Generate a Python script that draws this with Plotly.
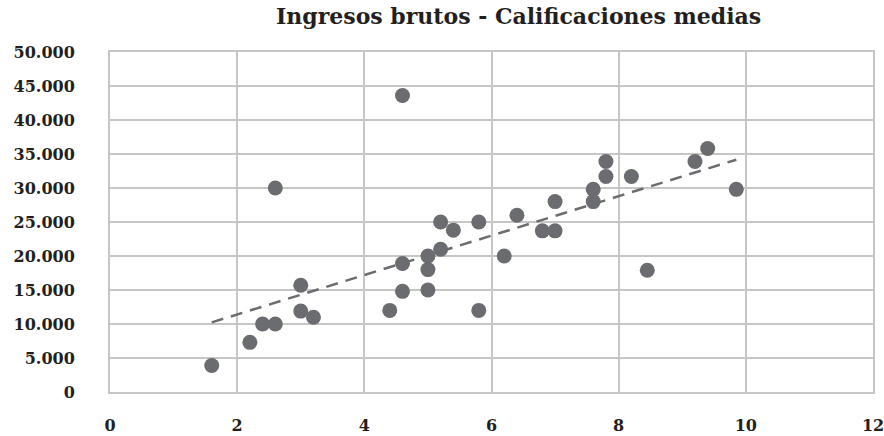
import numpy as np
import plotly.graph_objects as go

# Calificaciones medias (x) e ingresos brutos (y)
calificaciones = [1.6, 2.2, 2.4, 2.6, 2.6, 3.0, 3.0, 3.2, 4.4, 4.6, 4.6, 4.6,
                  5.0, 5.0, 5.0, 5.2, 5.2, 5.4, 5.8, 5.8, 6.2, 6.4, 6.8, 7.0,
                  7.0, 7.6, 7.6, 7.8, 7.8, 8.2, 8.45, 9.2, 9.4, 9.85]
ingresos = [3900, 7300, 10000, 10000, 30000, 15700, 11900, 11000, 12000, 43600,
            18900, 14800, 20000, 18000, 15000, 25000, 21000, 23800, 25000, 12000,
            20000, 26000, 23700, 23700, 28000, 28000, 29800, 31700, 33900, 31700,
            17900, 33900, 35800, 29800]

x_ticks = [0, 2, 4, 6, 8, 10, 12]
y_ticks = [0, 5000, 10000, 15000, 20000, 25000, 30000, 35000, 40000, 45000, 50000]
y_tick_labels = ["0", "5.000", "10.000", "15.000", "20.000", "25.000",
                 "30.000", "35.000", "40.000", "45.000", "50.000"]
titulo = "Ingresos brutos - Calificaciones medias"

GRID = "#c6c6c6"
MARK = "#6b6c70"
FONT = "DejaVu Serif"

# Linear trendline (least squares) over the data range
slope, intercept = np.polyfit(calificaciones, ingresos, 1)
tx = [min(calificaciones), max(calificaciones)]
ty = [slope * v + intercept for v in tx]

fig = go.Figure()
fig.add_trace(go.Scatter(x=tx, y=ty, mode="lines",
                         line=dict(color=MARK, width=2.5, dash="12px,8px"),
                         hoverinfo="skip", showlegend=False))
fig.add_trace(go.Scatter(x=calificaciones, y=ingresos, mode="markers",
                         marker=dict(color=MARK, size=15, line=dict(width=0)),
                         showlegend=False))

fig.update_layout(
    width=884, height=436,
    margin=dict(l=110, r=11, t=52, b=44),
    paper_bgcolor="white", plot_bgcolor="white",
    font=dict(family=FONT, color="#231f20", size=16),
    annotations=[dict(text="<b>" + titulo + "</b>", xref="paper", yref="paper",
                      x=0.535, y=1.0, yshift=36, xanchor="center", yanchor="middle",
                      showarrow=False, font=dict(family=FONT, size=22, color="#231f20"))],
)
fig.update_xaxes(range=[0, 12], tickvals=x_ticks,
                 ticktext=["<b>%d</b>" % v for v in x_ticks],
                 showgrid=True, gridcolor=GRID, gridwidth=1.5,
                 zeroline=False, showline=True, linecolor=GRID, linewidth=2,
                 mirror=True, ticks="", ticklabelstandoff=18, automargin=False,
                 ticklabeloverflow="allow",
                 tickfont=dict(family=FONT, size=16))
fig.update_yaxes(range=[0, 50000], tickvals=y_ticks,
                 ticktext=["<b>%s</b>" % t for t in y_tick_labels],
                 showgrid=True, gridcolor=GRID, gridwidth=1.5,
                 zeroline=False, showline=True, linecolor=GRID, linewidth=2,
                 mirror=True, ticks="", ticklabelstandoff=30, automargin=False,
                 ticklabeloverflow="allow",
                 tickfont=dict(family=FONT, size=16))

fig.write_html("out.html", config={"displayModeBar": False},
               post_script="document.body.style.margin='0px';document.body.style.overflow='hidden';")
